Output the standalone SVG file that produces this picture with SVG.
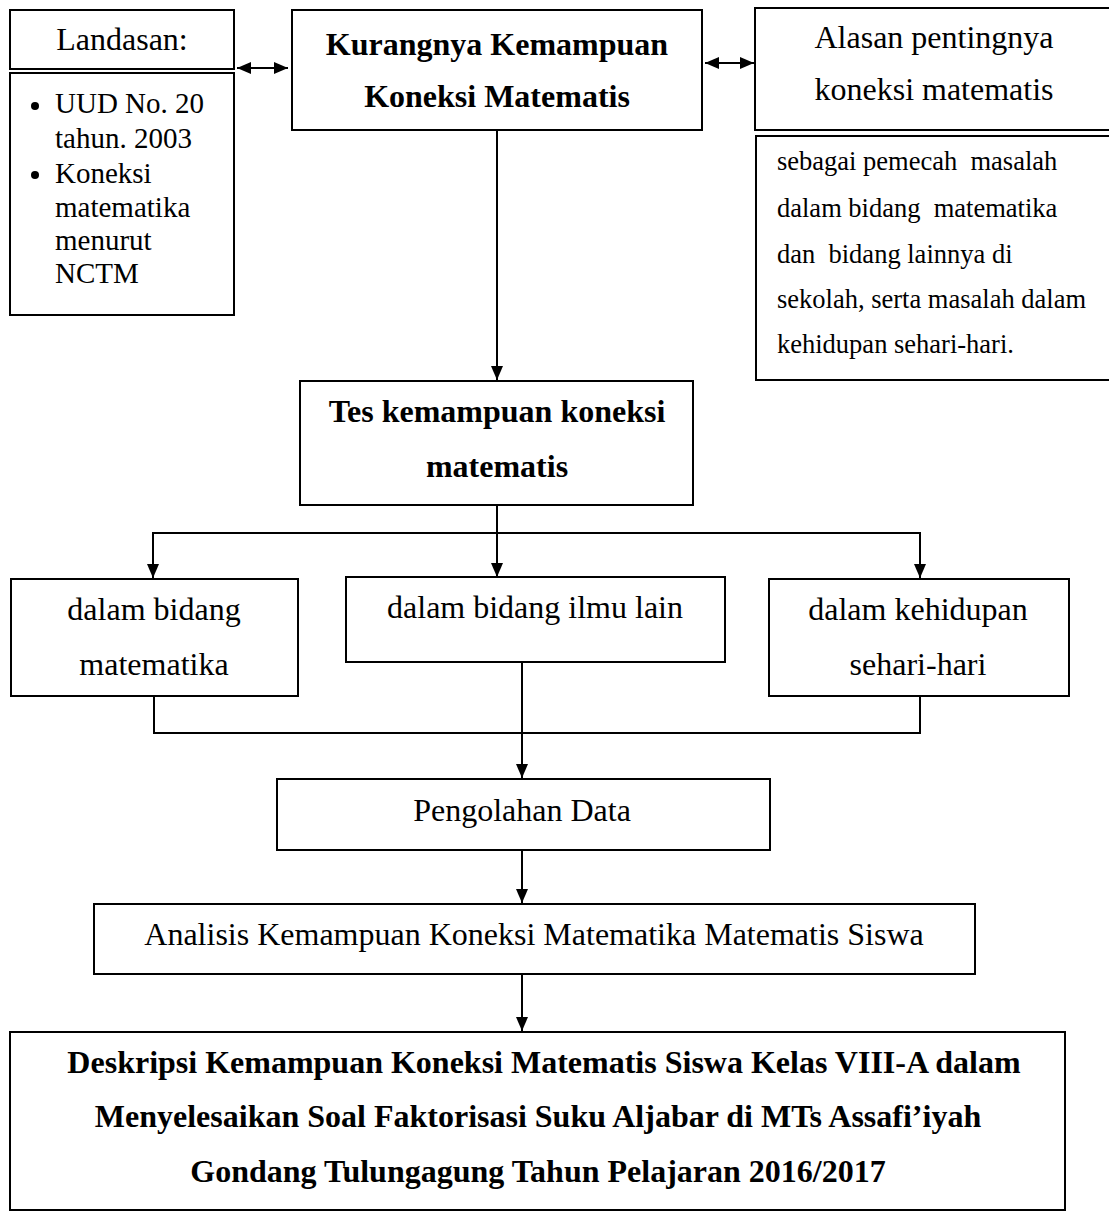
<svg xmlns="http://www.w3.org/2000/svg" width="1109" height="1214" viewBox="0 0 1109 1214">
<style>
.box{fill:#fff;stroke:#000;stroke-width:2}
.t{font-family:"Liberation Serif","Times New Roman",serif;font-size:32px;fill:#000}
.l{font-family:"Liberation Serif","Times New Roman",serif;font-size:29px;fill:#000}
.b{font-family:"Liberation Serif","Times New Roman",serif;font-size:32px;font-weight:bold;fill:#000}
.s{font-family:"Liberation Serif","Times New Roman",serif;font-size:26.5px;fill:#000;white-space:pre}
.c{text-anchor:middle}
.ln{fill:none;stroke:#000;stroke-width:2}
</style>
<defs>
<marker id="ah" viewBox="0 0 14 12" refX="14" refY="6" markerWidth="14" markerHeight="12" markerUnits="userSpaceOnUse" orient="auto-start-reverse">
<path d="M0,0 L14,6 L0,12 Z" fill="#000"/>
</marker>
</defs>
<rect width="1109" height="1214" fill="#fff"/>
<g id="connectors">
<line class="ln" x1="237" y1="68" x2="288" y2="68" marker-start="url(#ah)" marker-end="url(#ah)"/>
<line class="ln" x1="705" y1="63" x2="754" y2="63" marker-start="url(#ah)" marker-end="url(#ah)"/>
<line class="ln" x1="497" y1="130" x2="497" y2="380" marker-end="url(#ah)"/>
<line class="ln" x1="497" y1="505" x2="497" y2="577" marker-end="url(#ah)"/>
<polyline class="ln" points="153,578 153,533 920,533 920,578" marker-start="url(#ah)" marker-end="url(#ah)"/>
<polyline class="ln" points="154,696 154,733 920,733 920,696"/>
<line class="ln" x1="522" y1="662" x2="522" y2="778" marker-end="url(#ah)"/>
<line class="ln" x1="522" y1="850" x2="522" y2="903" marker-end="url(#ah)"/>
<line class="ln" x1="522" y1="974" x2="522" y2="1031" marker-end="url(#ah)"/>
</g>
<g id="landasan">
<rect class="box" x="10" y="10" width="224" height="59"/>
<text class="t c" x="122" y="50">Landasan:</text>
</g>
<g id="landasan-list">
<rect class="box" x="10" y="73" width="224" height="242"/>
<circle cx="35" cy="106" r="4" fill="#000"/>
<circle cx="35" cy="175" r="4" fill="#000"/>
<text class="l" x="55" y="113">UUD No. 20</text>
<text class="l" x="55" y="148">tahun. 2003</text>
<text class="l" x="55" y="183">Koneksi</text>
<text class="l" x="55" y="217">matematika</text>
<text class="l" x="55" y="250">menurut</text>
<text class="l" x="55" y="283">NCTM</text>
</g>
<g id="kurangnya">
<rect class="box" x="292" y="10" width="410" height="120"/>
<text class="b c" x="497" y="55">Kurangnya Kemampuan</text>
<text class="b c" x="497" y="107">Koneksi Matematis</text>
</g>
<g id="alasan">
<rect class="box" x="755" y="8" width="360" height="122"/>
<text class="t c" x="934" y="48">Alasan pentingnya</text>
<text class="t c" x="934" y="100">koneksi matematis</text>
</g>
<g id="alasan-isi">
<rect class="box" x="756" y="136" width="360" height="244"/>
<text class="s" x="777" y="170" xml:space="preserve">sebagai pemecah  masalah</text>
<text class="s" x="777" y="217" xml:space="preserve">dalam bidang  matematika</text>
<text class="s" x="777" y="263" xml:space="preserve">dan  bidang lainnya di</text>
<text class="s" x="777" y="308">sekolah, serta masalah dalam</text>
<text class="s" x="777" y="353">kehidupan sehari-hari.</text>
</g>
<g id="tes">
<rect class="box" x="300" y="381" width="393" height="124"/>
<text class="b c" x="497" y="422">Tes kemampuan koneksi</text>
<text class="b c" x="497" y="477">matematis</text>
</g>
<g id="bidang-matematika">
<rect class="box" x="11" y="579" width="287" height="117"/>
<text class="t c" x="154" y="620">dalam bidang</text>
<text class="t c" x="154" y="675">matematika</text>
</g>
<g id="bidang-ilmu-lain">
<rect class="box" x="346" y="577" width="379" height="85"/>
<text class="t c" x="535" y="618">dalam bidang ilmu lain</text>
</g>
<g id="kehidupan">
<rect class="box" x="769" y="579" width="300" height="117"/>
<text class="t c" x="918" y="620">dalam kehidupan</text>
<text class="t c" x="918" y="675">sehari-hari</text>
</g>
<g id="pengolahan">
<rect class="box" x="277" y="779" width="493" height="71"/>
<text class="t c" x="522" y="821">Pengolahan Data</text>
</g>
<g id="analisis">
<rect class="box" x="94" y="904" width="881" height="70"/>
<text class="t c" x="534" y="945">Analisis Kemampuan Koneksi Matematika Matematis Siswa</text>
</g>
<g id="deskripsi">
<rect class="box" x="10" y="1032" width="1055" height="178"/>
<text class="b c" x="544" y="1073">Deskripsi Kemampuan Koneksi Matematis Siswa Kelas VIII-A dalam</text>
<text class="b c" x="538" y="1127">Menyelesaikan Soal Faktorisasi Suku Aljabar di MTs Assafi’iyah</text>
<text class="b c" x="538" y="1182">Gondang Tulungagung Tahun Pelajaran 2016/2017</text>
</g>
</svg>
